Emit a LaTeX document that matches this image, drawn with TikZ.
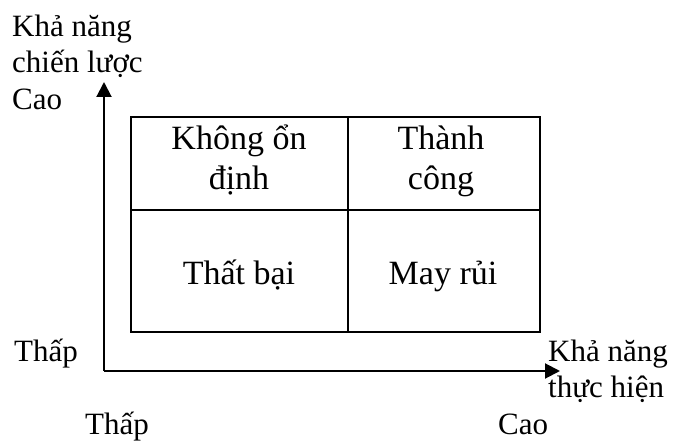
\documentclass[tikz,border=0pt]{standalone}
\usepackage{fontspec}
\setmainfont{Liberation Serif}
\usetikzlibrary{arrows.meta,positioning}

\begin{document}
\begin{tikzpicture}[x=1pt,y=-1pt,font=\fontsize{31}{36.5}\selectfont,
  axis/.style={line width=2pt,-{Triangle[length=15pt,width=15pt]}},
  frame/.style={line width=2.2pt},
  cell/.style={align=center,inner sep=0pt,anchor=base,font=\fontsize{34}{40}\selectfont},
  lbl/.style={align=left,inner sep=0pt,anchor=base west}]
  \useasboundingbox (0,0) rectangle (680,443);
  % goc toa do va dau mui ten
  \coordinate (O) at (104,371);
  \coordinate (ytip) at (104,82);
  \coordinate (xtip) at (560,371);
  \draw[axis] (O) -- (ytip);
  \draw[axis] (O) -- (xtip);
  % bang 2x2 (base = dong cuoi)
  \coordinate (nw) at (131,117);
  \coordinate (se) at (540,332);
  \draw[frame] (nw) rectangle (se);
  \draw[frame] (348,117) -- (348,332) (131,210) -- (540,210);
  \node[cell] (unstable) at (239,190) {Không ổn\\định};
  \node[cell] (success) at (441,190) {Thành\\công};
  \node[cell] (fail) at (239,285) {Thất bại};
  \node[cell] (luck) at (443,285) {May rủi};
  % nhan truc
  \node[lbl] (ytitle) at (12,109.5) {Khả năng\\chiến lược\\Cao};
  \node[lbl] (ylow) at (14,362) {Thấp};
  \node[lbl] (xtitle) at (548,398) {Khả năng\\thực hiện};
  \node[lbl] (xlow) at (85,435) {Thấp};
  \node[lbl] (xhigh) at (498,435) {Cao};
\end{tikzpicture}
\end{document}
